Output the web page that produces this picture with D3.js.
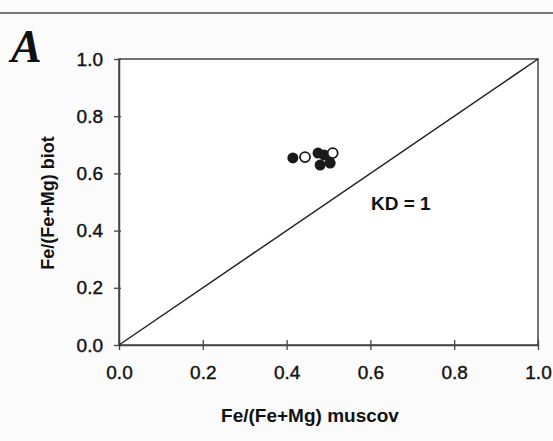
<!DOCTYPE html>
<html>
<head>
<meta charset="utf-8">
<script src="https://cdn.jsdelivr.net/npm/d3@7"></script>
<style>
  body { margin: 0; background: #fbfbfb; }
  svg { display: block; }
  text { font-family: "Liberation Sans", Arial, sans-serif; fill: #111; }
</style>
</head>
<body>
<div id="chart"></div>
<script>
// Data
var filledX = [0.415, 0.475, 0.49, 0.48, 0.504];
var filledY = [0.654, 0.671, 0.664, 0.629, 0.636];
var openX = [0.444, 0.51];
var openY = [0.657, 0.671];
var tickValues = [0, 0.2, 0.4, 0.6, 0.8, 1.0];

var width = 553, height = 441;
var margin = {left: 119, right: 15, top: 59, bottom: 96};

var svg = d3.select("#chart")
    .append("svg")
    .attr("width", width)
    .attr("height", height);

// top rule
svg.append("line")
    .attr("x1", 0).attr("x2", width)
    .attr("y1", 13).attr("y2", 13)
    .attr("stroke", "#777")
    .attr("stroke-width", 2);

var x = d3.scaleLinear().domain([0, 1]).range([margin.left, width - margin.right]);
var y = d3.scaleLinear().domain([0, 1]).range([height - margin.bottom, margin.top]);

//Frame
svg.append("rect")
    .attr("x", x(0)).attr("y", y(1))
    .attr("width", x(1) - x(0)).attr("height", y(0) - y(1))
    .attr("fill", "#fff")
    .attr("stroke", "#444")
    .attr("stroke-width", 1.5);

//Axes
var xAxis = svg.append("g")
    .attr("transform", "translate(0," + y(0) + ")")
    .call(d3.axisBottom(x).tickValues(tickValues).tickFormat(d3.format(".1f")).tickSizeInner(5).tickSizeOuter(0).tickPadding(16));
xAxis.selectAll(".tick line").attr("y1", -5);

var yAxis = svg.append("g")
    .attr("transform", "translate(" + x(0) + ",0)")
    .call(d3.axisLeft(y).tickValues(tickValues).tickFormat(d3.format(".1f")).tickSizeInner(5).tickSizeOuter(0).tickPadding(11));
yAxis.selectAll(".tick line").attr("x1", 2);

svg.selectAll(".domain").attr("stroke", "#444").attr("stroke-width", 1.5);
svg.selectAll(".tick line").attr("stroke", "#444").attr("stroke-width", 1.3);
svg.selectAll(".tick text")
    .attr("fill", "#111")
    .attr("stroke", "#111")
    .attr("stroke-width", 0.4)
    .style("font-size", "19px")
    .style("font-family", "'Liberation Sans', Arial, sans-serif");

//KD = 1 line
svg.append("line")
    .attr("x1", x(0)).attr("y1", y(0))
    .attr("x2", x(1)).attr("y2", y(1))
    .attr("stroke", "#222")
    .attr("stroke-width", 1.5);

svg.append("text")
    .attr("x", 371)
    .attr("y", 210)
    .style("font-size", "19px")
    .style("font-weight", "bold")
    .text("KD = 1");

//Points
var filled = filledX.map(function(d, i) { return {x: d, y: filledY[i]}; });
var open = openX.map(function(d, i) { return {x: d, y: openY[i]}; });

svg.selectAll("circle.filled")
    .data(filled)
    .enter()
    .append("circle")
    .attr("class", "filled")
    .attr("cx", d => x(d.x))
    .attr("cy", d => y(d.y))
    .attr("r", 5.5)
    .attr("fill", "#1a1a1a");

svg.selectAll("circle.open")
    .data(open)
    .enter()
    .append("circle")
    .attr("class", "open")
    .attr("cx", d => x(d.x))
    .attr("cy", d => y(d.y))
    .attr("r", 5)
    .attr("fill", "#fff")
    .attr("stroke", "#1a1a1a")
    .attr("stroke-width", 1.8);

//Axis titles
svg.append("text")
    .attr("x", 310)
    .attr("y", 422)
    .attr("text-anchor", "middle")
    .style("font-size", "19px")
    .style("font-weight", "bold")
    .text("Fe/(Fe+Mg) muscov");

svg.append("text")
    .attr("transform", "translate(54,203) rotate(-90)")
    .attr("text-anchor", "middle")
    .style("font-size", "18px")
    .style("font-weight", "bold")
    .text("Fe/(Fe+Mg) biot");

//Panel letter
svg.append("text")
    .attr("x", 11)
    .attr("y", 62)
    .style("font-family", "'Liberation Serif', 'Times New Roman', serif")
    .style("font-size", "46px")
    .style("font-weight", "bold")
    .style("font-style", "italic")
    .text("A");
</script>
</body>
</html>
